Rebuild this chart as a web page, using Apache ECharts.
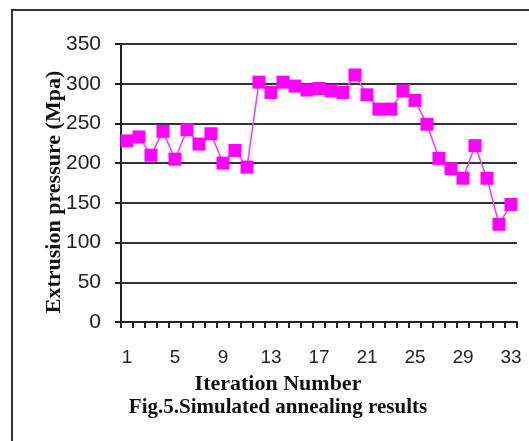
<!DOCTYPE html>
<html><head><meta charset="utf-8">
<script src="https://cdn.jsdelivr.net/npm/echarts@6/dist/echarts.min.js"></script>
<style>html,body{margin:0;padding:0;background:#fff}#c{width:529px;height:441px}</style>
</head><body><div id="c"></div>
<script>
const iterations = [];
for (let i = 1; i <= 33; i++) iterations.push(String(i));
const pressure = [228, 233, 210, 240, 205, 242, 224, 237, 200, 216, 195, 302, 289, 302, 297, 292, 294, 291, 289, 311, 286, 268, 268, 291, 279, 249, 206, 193, 181, 222, 181, 123, 148];
const yTicks = { min: 0, max: 350, interval: 50 };

const chart = echarts.init(document.getElementById('c'));
chart.setOption({
  animation: false,
  grid: { left: 121, right: 12, top: 44, bottom: 119 },
  graphic: [{
    type: 'rect', shape: { x: 12, y: 10, width: 540, height: 450 },
    style: { fill: 'none', stroke: '#333', lineWidth: 2 }, silent: true
  }, {
    type: 'text', x: 278, y: 408,
    style: { text: 'Fig.5.Simulated annealing results', font: 'bold 21px "Liberation Serif"', fill: '#111', align: 'center', verticalAlign: 'middle' }
  }, {
    type: 'text', x: 278, y: 384,
    style: { text: 'Iteration Number', font: 'bold 22px "Liberation Serif"', fill: '#111', align: 'center', verticalAlign: 'middle' }
  }, {
    type: 'text', x: 54, y: 192, rotation: Math.PI / 2,
    style: { text: 'Extrusion pressure (Mpa)', font: 'bold 22px "Liberation Serif"', fill: '#111', align: 'center', verticalAlign: 'middle' }
  }],
  xAxis: {
    type: 'category', data: iterations, boundaryGap: true,
    axisLine: { lineStyle: { color: '#222', width: 2 } },
    axisTick: { show: true, interval: 0, length: 6, lineStyle: { color: '#222', width: 2 } },
    axisLabel: { interval: 3, margin: 26, fontFamily: 'Liberation Sans', fontSize: 19, color: '#222' }
  },
  yAxis: {
    type: 'value', min: yTicks.min, max: yTicks.max, interval: yTicks.interval,
    axisLine: { show: true, lineStyle: { color: '#222', width: 2 } },
    axisTick: { show: true, length: 6, lineStyle: { color: '#222', width: 2 } },
    axisLabel: { margin: 20, fontFamily: 'Liberation Sans', fontSize: 21, color: '#222' },
    splitLine: { lineStyle: { color: '#333', width: 2 } }
  },
  series: [{
    type: 'line', data: pressure,
    symbol: 'rect', symbolSize: 13, showAllSymbol: true,
    lineStyle: { color: '#ff33ff', width: 1.5 },
    itemStyle: { color: '#ff00ff' }
  }]
});
</script></body></html>
